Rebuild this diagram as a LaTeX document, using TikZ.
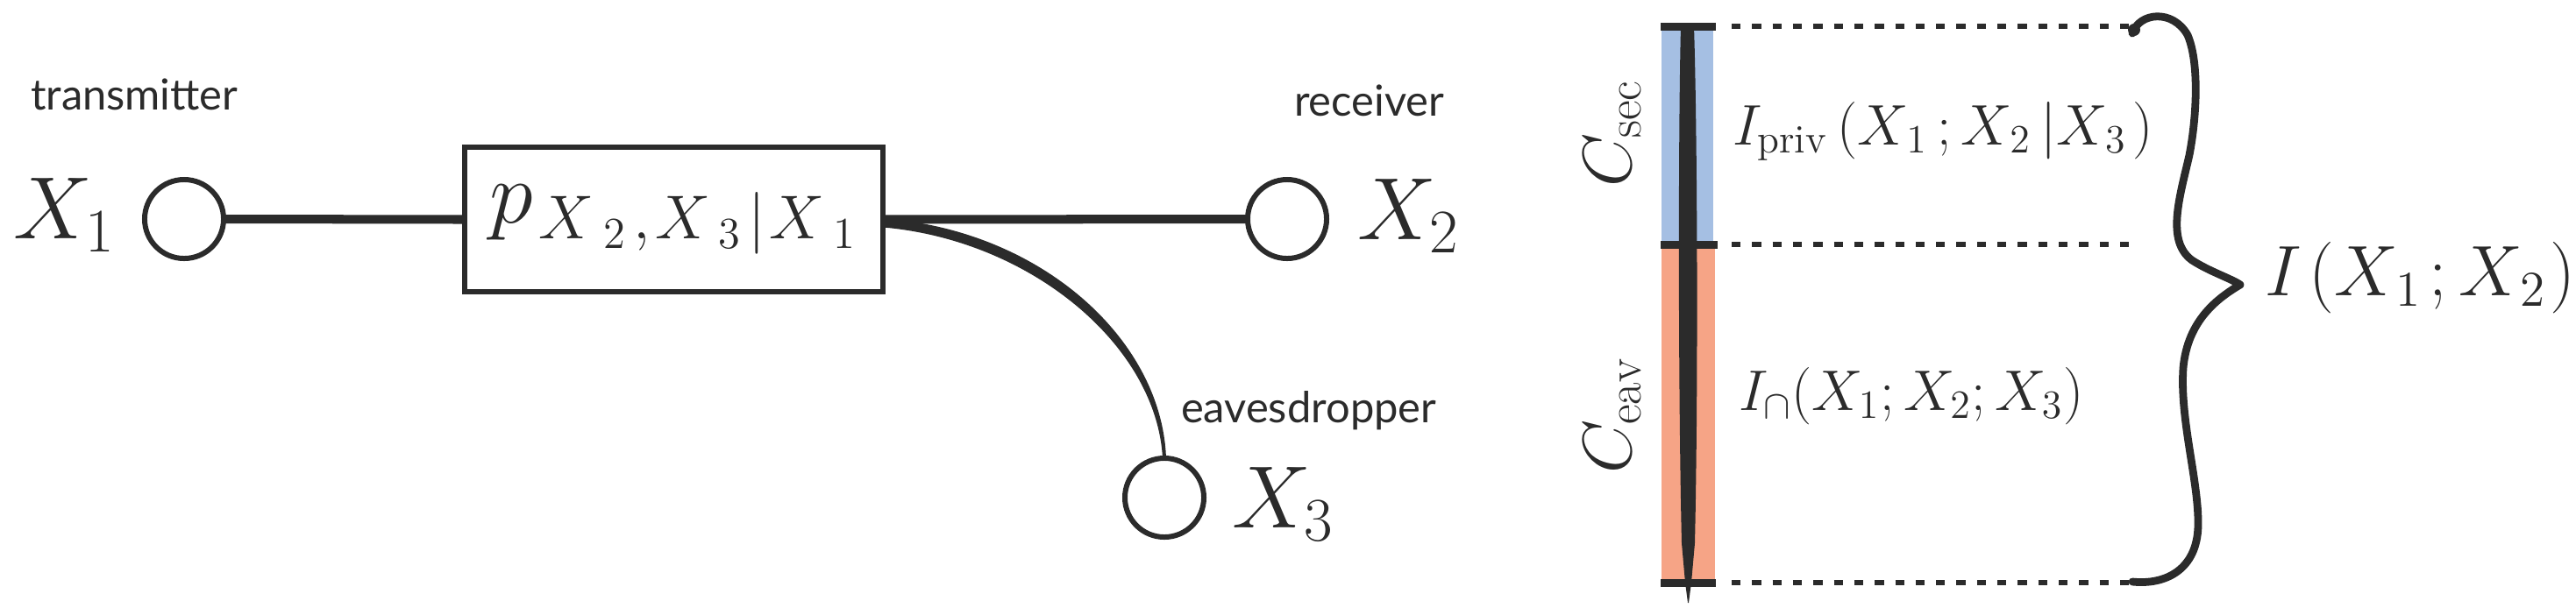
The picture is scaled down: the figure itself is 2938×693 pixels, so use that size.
\RequirePackage{fix-cm}
\documentclass[tikz,border=0pt]{standalone}
\usepackage{fontspec}
\newfontfamily\labelfont{Lato}
\usetikzlibrary{calc}
\definecolor{ink}{HTML}{2B2B2B}
\definecolor{secblue}{HTML}{A5BFE3}
\definecolor{eavorange}{HTML}{F6A486}
\begin{document}
\begin{tikzpicture}[x=0.01cm,y=-0.01cm,
  every node/.style={inner sep=0pt,outer sep=0pt,text=ink},
  station/.style={circle,draw=ink,line width=1.7pt,minimum size=0.9cm,fill=white},
  channel/.style={rectangle,draw=ink,line width=1.7pt,minimum width=4.77cm,minimum height=1.65cm,
    font=\fontsize{28.7pt}{34pt}\selectfont},
  wire/.style={draw=ink,line width=2.85pt},
  role/.style={font=\labelfont\fontsize{13.9pt}{16pt}\selectfont},
  bigmath/.style={font=\fontsize{28.7pt}{34pt}\selectfont},
  midmath/.style={font=\fontsize{22.5pt}{27pt}\selectfont},
  bracemath/.style={font=\fontsize{23.2pt}{28pt}\selectfont},
  smallmath/.style={font=\fontsize{18.6pt}{22pt}\selectfont},
  tickline/.style={draw=ink,line width=2.56pt},
  guide/.style={draw=ink,line width=1.9pt,dash pattern=on 2.93pt off 3.7pt},
  bracestroke/.style={draw=ink,line width=2.5pt,line cap=round,line join=round}]
\useasboundingbox (0,0) rectangle (2938,693);

% ---- left: channel model ----
\node[station] (s1) at (210,250) {};
\node[station] (s2) at (1468,250) {};
\node[station] (s3) at (1328,568) {};
\node[channel] (ch) at (768.5,250.5) {\raisebox{0.05cm}{$p_{\mkern1.5mu X_{\mkern6mu 2}\mkern2mu,\mkern1.3mu X_{\mkern5.4mu 3}\mkern2mu|\mkern1mu X_{\mkern5.4mu 1}}$}};

\node[bigmath,anchor=base east] (x1) at (132,272) {$X_1$};
\node[bigmath,anchor=base west] (x2) at (1548,273) {$X_2$};
\node[bigmath,anchor=base west] (x3) at (1405,602) {$X_3$};
\node[role,anchor=base west] (tx) at (35,125) {transmitter};
\node[role,anchor=base west] (rx) at (1476,132) {receiver};
\node[role,anchor=base west] (ev) at (1347,482) {eavesdropper};

\draw[wire] (s1.east) -- (ch.west);
\draw[wire] (ch.east) -- (s2.west);
\fill[ink] ($(ch.east)+(0,-1)$) .. controls (1185,262) and (1325,386) .. ($(s3.north)+(2,0)$)
  -- ($(s3.north)+(-2,0)$) .. controls (1319,394) and (1175,274) .. ($(ch.east)+(0,9)$) -- cycle;

% ---- right: capacity bar ----
\fill[secblue] (1895,30) rectangle (1954,279);
\fill[eavorange] (1895,279) rectangle (1956,665);
\fill[ink] (1917,30) -- (1932,30) .. controls (1936,150) and (1937,450) .. (1933,620)
  -- (1929,665) -- (1926,688) -- (1925,688) -- (1922,665) -- (1918,620)
  .. controls (1914,450) and (1914,150) .. (1917,30) -- cycle;
\draw[tickline] (1894,30) -- (1957,30);
\draw[tickline] (1894,279) -- (1959,279);
\draw[tickline] (1894,665) -- (1957,665);

\draw[guide] (1975,30) -- (2428,30);
\draw[guide] (1975,279) -- (2431,279);
\draw[guide] (1975,665) -- (2428,665);

\draw[bracestroke] (2432,38) .. controls (2440,14) and (2478,10) .. (2495,40)
  .. controls (2508,70) and (2506,130) .. (2497,177)
  .. controls (2486,225) and (2470,275) .. (2500,297)
  .. controls (2520,310) and (2545,318) .. (2555,325)
  .. controls (2530,340) and (2495,365) .. (2490,420)
  .. controls (2486,480) and (2508,550) .. (2507,600)
  .. controls (2506,650) and (2470,668) .. (2432,664);
\fill[ink] (2434,34) circle[radius=0.07cm];

\node[midmath,rotate=90,anchor=base west] (csec) at (1860,213) {$C_{\mathrm{sec}}$};
\node[midmath,rotate=90,anchor=base west] (ceav) at (1860,540) {$C_{\mathrm{eav}}$};
\node[smallmath,anchor=base west] (ipriv) at (1976,165)
  {$I_{\mathrm{priv}}\mkern3mu(X_{\mkern1mu 1}\mkern3mu;X_{\mkern1mu 2}\mkern3mu|X_{\mkern1mu 3}\mkern2mu)$};
\node[smallmath,anchor=base west] (icap) at (1983,468) {$I_{\cap}(X_1;X_2;X_3)$};
\node[bracemath,anchor=base west] (imut) at (2583,337)
  {$I\mkern2mu(X_{\mkern1mu 1}\mkern2mu;X_{\mkern1mu 2}\mkern1mu)$};
\end{tikzpicture}
\end{document}
